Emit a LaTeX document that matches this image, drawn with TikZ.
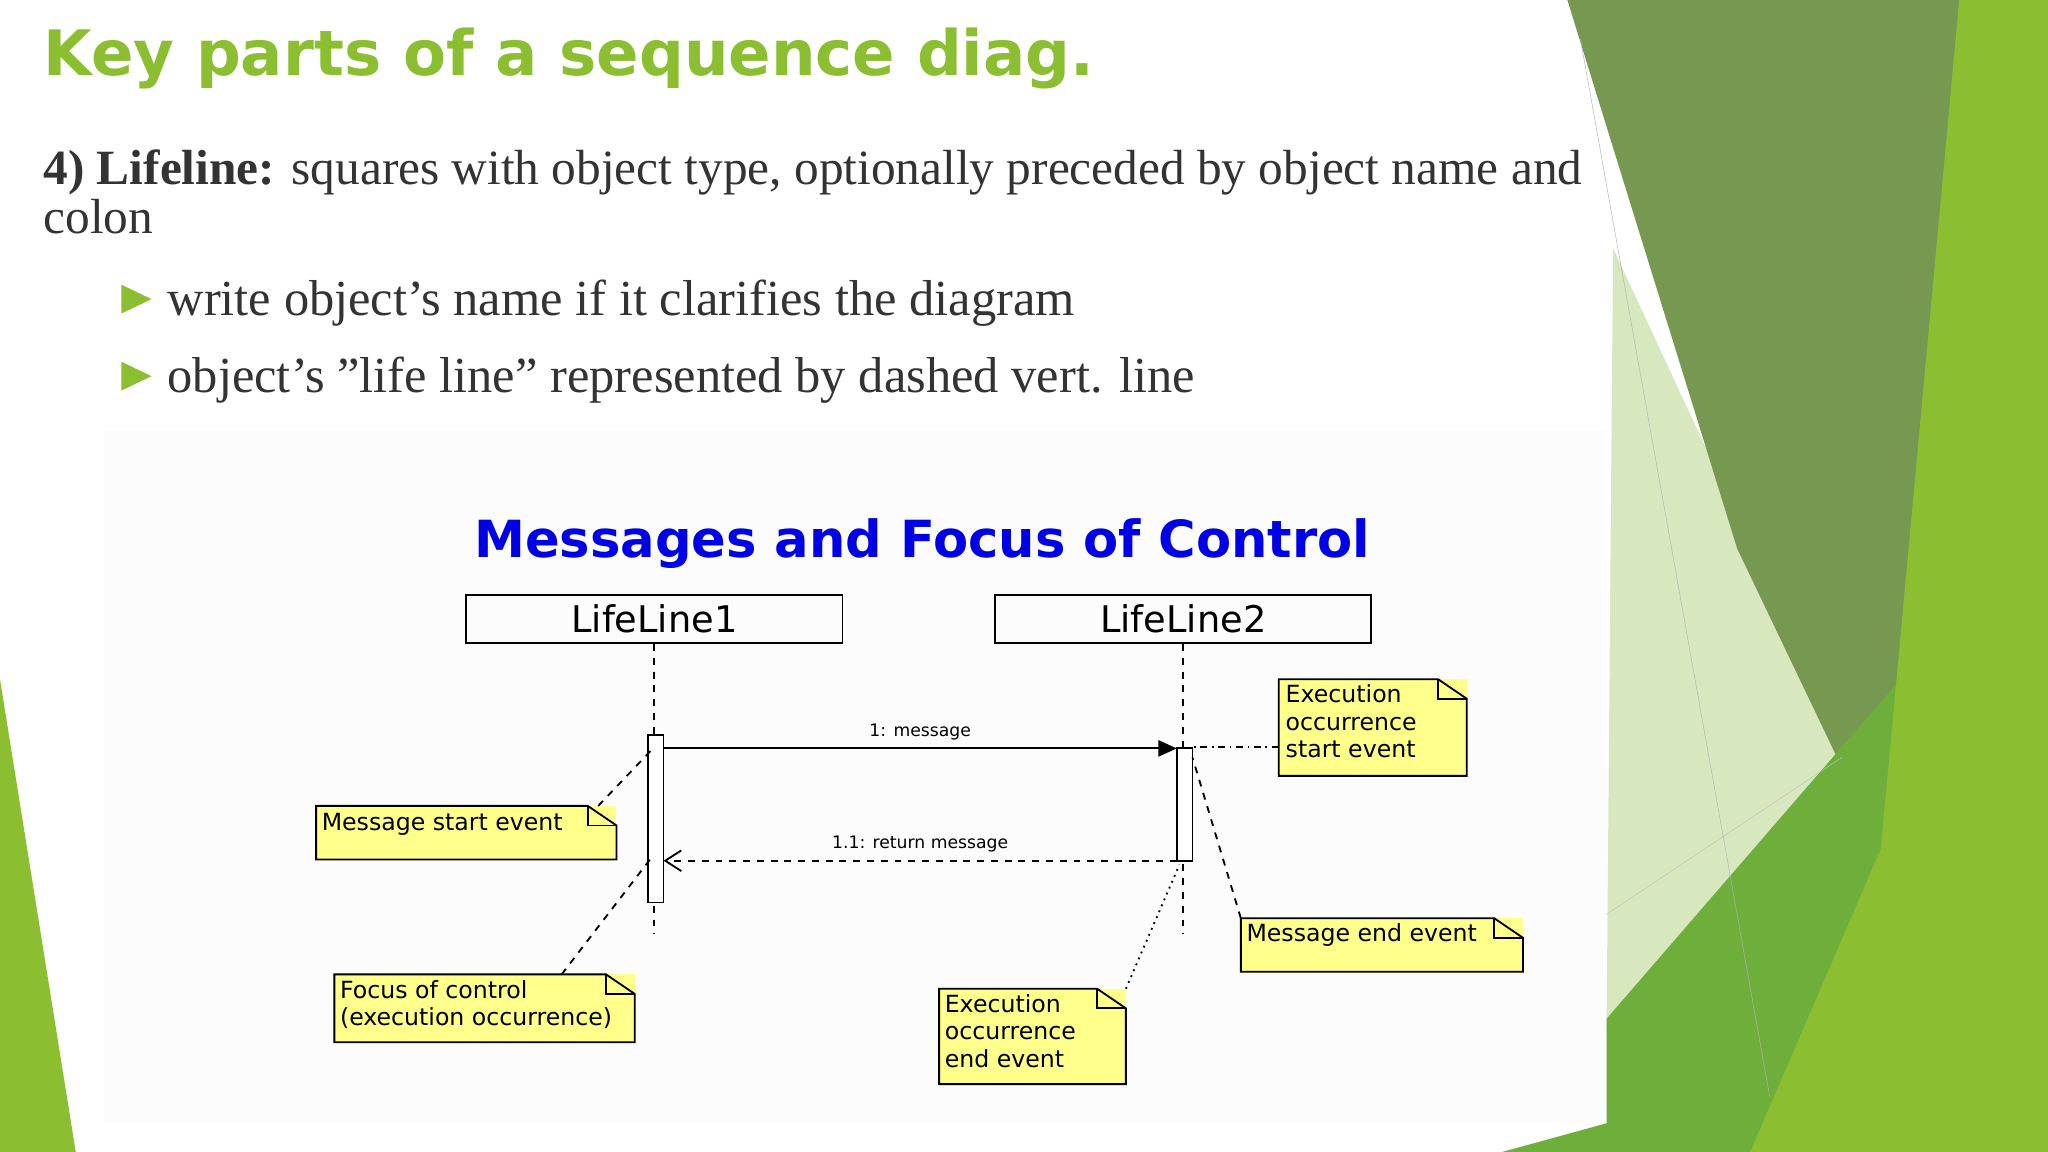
\documentclass[tikz,border=0pt]{standalone}
\usepackage{fontspec}
\setmainfont{Liberation Serif}
\newfontfamily\dejavu{DejaVu Sans}
\usetikzlibrary{arrows.meta,calc}
\definecolor{leaf}{RGB}{140,190,50}
\definecolor{olive}{RGB}{118,152,80}
\definecolor{pale}{RGB}{215,232,190}
\definecolor{mid}{RGB}{110,175,60}
\definecolor{noteyel}{RGB}{255,255,140}
\tikzset{
  lifebox/.style={draw, thick, minimum width=5.76cm, minimum height=0.74cm, font=\dejavu\fontsize{16}{16}\selectfont},
  notetext/.style={anchor=north west, align=left, inner sep=0pt, font=\dejavu\fontsize{10.3}{12}\selectfont},
  lifeline/.style={dashed, thick},
  msglabel/.style={font=\dejavu\fontsize{7.5}{8}\selectfont, above},
  bodytext/.style={anchor=west, inner sep=0pt, text=black!80, font=\fontsize{22}{22}\selectfont}
}
% yellow note with folded corner: (name) nw corner, se corner
\newcommand{\notebox}[3]{%
  \coordinate (#1-nw) at #2;
  \coordinate (#1-se) at #3;
  \fill[noteyel] (#1-nw) -| (#1-se) -| cycle;
  \draw[thick] (#1-nw) -- ($(#1-nw -| #1-se)+(-22,0)$) -- ($(#1-nw -| #1-se)+(0,15)$) |- (#1-se) -| cycle;
  \draw[thick] ($(#1-nw -| #1-se)+(-22,0)$) |- ($(#1-nw -| #1-se)+(0,15)$);
}
\begin{document}
\begin{tikzpicture}[x=0.02cm,y=-0.02cm]
\useasboundingbox (0,0) rectangle (1568,882);
% background
\fill[white] (0,0) rectangle (1568,882);
\fill[gray!2] (80,330) rectangle (1230,860);
\fill[pale] (1235,190) -- (1430,610) -- (1230,790) -- cycle;
\fill[olive] (1200,0) -- (1505,0) -- (1440,650) -- (1330,420) -- cycle;
\fill[mid] (1230,780) -- (1455,520) -- (1470,882) -- (1150,882) -- (1230,860) -- cycle;
\fill[leaf] (1500,0) -- (1568,0) -- (1568,882) -- (1340,882) -- (1440,650) -- cycle;
\fill[leaf] (0,520) -- (58,882) -- (0,882) -- cycle;
\draw[gray!60, very thin] (1210,30) -- (1355,840);
\draw[gray!50, very thin] (1230,700) -- (1410,580);
% title and text
\node[anchor=west, text=leaf, inner sep=0pt, font=\dejavu\bfseries\fontsize{27.3}{27.3}\selectfont] (title) at (33,45) {Key parts of a sequence diag.};
\node[anchor=north west, inner sep=0pt, align=left, text=black!80, font=\fontsize{21.5}{21.5}\selectfont] (intro) at (33,114) {\textbf{4) Lifeline:} squares with object type, optionally preceded by object name and\\colon};
\fill[leaf] (93,218) -- (116,229) -- (93,240) -- cycle;
\fill[leaf] (93,277) -- (116,288) -- (93,299) -- cycle;
\node[bodytext] (b1) at (128,232) {write object\char"27 s name if it clarifies the diagram};
\node[bodytext] (b2) at (128,291) {object\char"27 s \char"22 life line\char"22\ represented by dashed vert. line};
% diagram
\node[text={rgb,255:red,0;green,0;blue,230}, font=\dejavu\bfseries\fontsize{22.3}{22.3}\selectfont] (dtitle) at (706,416) {Messages and Focus of Control};
\node[lifebox] (ll1) at (501,474) {LifeLine1};
\node[lifebox] (ll2) at (906,474) {LifeLine2};
\coordinate (e1) at (501,715);
\coordinate (e2) at (906,715);
\draw[lifeline] (ll1.south) -- (e1);
\draw[lifeline] (ll2.south) -- (e2);
\draw[thick, fill=white] (496,563) rectangle (508,691);
\draw[thick, fill=white] (901,573) rectangle (913,659);
\draw[thick, -{Triangle[length=8pt,width=7pt]}] (508,573) -- node[msglabel] (m1) {1: message} (901,573);
\draw[thick, dashed, -{Straight Barb[length=7pt,width=9pt]}] (901,659) -- node[msglabel] (m2) {1.1: return message} (508,659);
% notes
\notebox{n1}{(979,520)}{(1123,594)}
\node[notetext] (t1) at (984,524) {Execution\\occurrence\\start event};
\draw[thick, dash dot] (979,572) -- (913,572);
\notebox{n2}{(242,617)}{(472,658)}
\node[notetext] (t2) at (246,622) {Message start event};
\draw[thick, dashed] (458,617) -- (500,573);
\notebox{n3}{(256,746)}{(486,798)}
\node[notetext] (t3) at (260,750) {Focus of control\\(execution occurrence)};
\draw[thick, dashed] (430,746) -- (500,655);
\notebox{n4}{(719,757)}{(862,830)}
\node[notetext] (t4) at (723,761) {Execution\\occurrence\\end event};
\draw[thick, dotted] (862,757) -- (903,662);
\notebox{n5}{(950,703)}{(1166,744)}
\node[notetext] (t5) at (954,707) {Message end event};
\draw[thick, dashed] (950,703) -- (913,580);
\end{tikzpicture}
\end{document}
